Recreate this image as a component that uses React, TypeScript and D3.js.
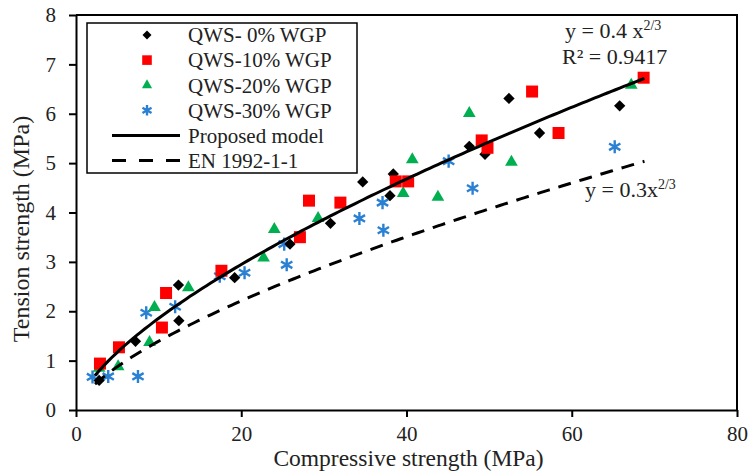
import React, { useRef, useEffect } from 'react';
import * as d3 from 'd3';

// QWS-0% WGP
const qws0X = [2.8, 7.2, 12.4, 12.45, 19.2, 25.9, 30.8, 34.7, 38.4, 38.0, 47.6, 49.5, 52.4, 56.1, 65.8];
const qws0Y = [0.6, 1.39, 2.53, 1.81, 2.68, 3.36, 3.78, 4.62, 4.78, 4.34, 5.34, 5.18, 6.31, 5.61, 6.16];
// QWS-10% WGP
const qws10X = [2.9, 5.2, 10.4, 10.9, 17.6, 27.1, 28.2, 32.0, 38.7, 40.2, 49.1, 49.8, 55.2, 58.4, 68.7];
const qws10Y = [0.94, 1.27, 1.67, 2.37, 2.82, 3.5, 4.24, 4.2, 4.63, 4.63, 5.46, 5.31, 6.45, 5.61, 6.73];
// QWS-20% WGP
const qws20X = [2.8, 5.1, 8.9, 9.5, 13.6, 22.7, 24.0, 29.3, 39.6, 40.7, 43.8, 47.6, 52.7, 67.2];
const qws20Y = [0.85, 0.88, 1.37, 2.08, 2.48, 3.08, 3.66, 3.88, 4.39, 5.07, 4.31, 6.01, 5.02, 6.58];
// QWS-30% WGP
const qws30X = [2.0, 3.9, 7.5, 8.5, 12.0, 17.4, 20.4, 25.2, 25.5, 34.3, 37.1, 37.2, 45.1, 48.0, 65.2];
const qws30Y = [0.67, 0.68, 0.68, 1.97, 2.09, 2.71, 2.78, 3.36, 2.94, 3.88, 4.2, 3.64, 5.04, 4.49, 5.33];

const xTicks = [0, 20, 40, 60, 80];
const yTicks = [0, 1, 2, 3, 4, 5, 6, 7, 8];

// y = a * x^(2/3)
const modelCoef = 0.4;
const codeCoef = 0.3;
const curveStart = 2.3;
const curveEnd = 68.8;

const App = () => {
  const chartRef = useRef<SVGSVGElement>(null);

  useEffect(() => {
    const font = '"Liberation Serif", "Times New Roman", serif';
    const ink = '#222';
    const svg = d3.select(chartRef.current);
    svg.selectAll('*').remove();

    const x = d3.scaleLinear().domain([0, 80]).range([76, 737]);
    const y = d3.scaleLinear().domain([0, 8]).range([410, 15]);

    // frame top + right
    svg
      .append('path')
      .attr('d', `M${x(0)},${y(8)}H${x(80)}V${y(0)}`)
      .attr('fill', 'none')
      .attr('stroke', '#000')
      .attr('stroke-width', 2);

    const xAxis = d3.axisBottom(x).tickValues(xTicks).tickSize(7).tickSizeOuter(0).tickPadding(9);
    const gx = svg
      .append('g')
      .attr('transform', `translate(0,${y(0)})`)
      .call(xAxis);
    const yAxis = d3.axisLeft(y).tickValues(yTicks).tickSize(7).tickSizeOuter(0).tickPadding(13);
    const gy = svg
      .append('g')
      .attr('transform', `translate(${x(0)},0)`)
      .call(yAxis);
    [gx, gy].forEach((g) => {
      g.selectAll('path, line').attr('stroke', '#000').attr('stroke-width', 2);
      g.selectAll('text')
        .attr('font-family', font)
        .attr('font-size', 21)
        .attr('fill', ink);
    });

    svg
      .append('text')
      .attr('x', (x(0) + x(80)) / 2 + 2)
      .attr('y', 466)
      .attr('text-anchor', 'middle')
      .attr('font-family', font)
      .attr('font-size', 23.5)
      .attr('fill', ink)
      .text('Compressive strength (MPa)');

    svg
      .append('text')
      .attr('transform', `translate(29,229) rotate(-90)`)
      .attr('text-anchor', 'middle')
      .attr('font-family', font)
      .attr('font-size', 24)
      .attr('fill', ink)
      .text('Tension strength (MPa)');

    const series = [
      { xs: qws30X, ys: qws30Y, kind: 'star', color: '#2a80d2' },
      { xs: qws20X, ys: qws20Y, kind: 'tri', color: '#00b050' },
      { xs: qws0X, ys: qws0Y, kind: 'dia', color: '#000000' },
      { xs: qws10X, ys: qws10Y, kind: 'sq', color: '#ff0000' },
    ];

    const drawMarker = (g: any, kind: string, color: string, cx: number, cy: number, s: number) => {
      if (kind === 'dia') {
        g.append('path')
          .attr('d', d3.symbol().type(d3.symbolSquare).size(64 * s * s)())
          .attr('transform', `translate(${cx},${cy}) rotate(45)`)
          .attr('fill', color);
      } else if (kind === 'sq') {
        g.append('path')
          .attr('d', d3.symbol().type(d3.symbolSquare).size(144 * s * s)())
          .attr('transform', `translate(${cx},${cy})`)
          .attr('fill', color);
      } else if (kind === 'tri') {
        g.append('path')
          .attr('d', d3.symbol().type(d3.symbolTriangle).size(70 * s * s)())
          .attr('transform', `translate(${cx},${cy})`)
          .attr('fill', color);
      } else {
        g.append('path')
          .attr('d', d3.symbol().type(d3.symbolAsterisk).size(120 * s * s)())
          .attr('transform', `translate(${cx},${cy})`)
          .attr('fill', 'none')
          .attr('stroke', color)
          .attr('stroke-width', 2.4);
      }
    };

    const marks = svg.append('g');
    series.forEach((sr) => {
      sr.xs.forEach((v, i) => drawMarker(marks, sr.kind, sr.color, x(v), y(sr.ys[i]), 1));
    });

    const line = d3.line<number>().x((d) => x(d));
    const xsCurve = d3.range(curveStart, curveEnd + 0.01, 0.5);

    svg
      .append('path')
      .attr('d', line.y((d) => y(modelCoef * Math.pow(d, 2 / 3)))(xsCurve))
      .attr('fill', 'none')
      .attr('stroke', '#000')
      .attr('stroke-width', 3);

    svg
      .append('path')
      .attr('d', line.y((d) => y(codeCoef * Math.pow(d, 2 / 3)))(xsCurve))
      .attr('fill', 'none')
      .attr('stroke', '#000')
      .attr('stroke-width', 3)
      .attr('stroke-dasharray', '13 9');

    // legend
    const lg = svg.append('g');
    lg.append('rect')
      .attr('x', 87)
      .attr('y', 23)
      .attr('width', 270)
      .attr('height', 150)
      .attr('fill', '#fff')
      .attr('stroke', '#000')
      .attr('stroke-width', 1.5);
    const legendItems = [
      { label: 'QWS- 0% WGP', kind: 'dia', color: '#000000' },
      { label: 'QWS-10% WGP', kind: 'sq', color: '#ff0000' },
      { label: 'QWS-20% WGP', kind: 'tri', color: '#00b050' },
      { label: 'QWS-30% WGP', kind: 'star', color: '#2a80d2' },
      { label: 'Proposed model', kind: 'solid', color: '#000' },
      { label: 'EN 1992-1-1', kind: 'dash', color: '#000' },
    ];
    legendItems.forEach((it, i) => {
      const cy = 35 + i * 25.1;
      if (it.kind === 'solid' || it.kind === 'dash') {
        lg.append('line')
          .attr('x1', 112)
          .attr('x2', 180)
          .attr('y1', cy)
          .attr('y2', cy)
          .attr('stroke', '#000')
          .attr('stroke-width', 3)
          .attr('stroke-dasharray', it.kind === 'dash' ? '14 13' : null);
      } else {
        drawMarker(lg, it.kind, it.color, 147, cy, 0.8);
      }
      lg.append('text')
        .attr('x', 188)
        .attr('y', cy)
        .attr('dy', '0.35em')
        .attr('font-family', font)
        .attr('font-size', 21)
        .attr('fill', ink)
        .text(it.label);
    });

    // annotations
    const t1 = svg
      .append('text')
      .attr('x', 565)
      .attr('y', 38)
      .attr('font-family', font)
      .attr('font-size', 22)
      .attr('fill', ink);
    t1.append('tspan').text('y = 0.4 x');
    t1.append('tspan').attr('font-size', 14).attr('dy', -8).text('2/3');

    svg
      .append('text')
      .attr('x', 562)
      .attr('y', 64)
      .attr('font-family', font)
      .attr('font-size', 22)
      .attr('fill', ink)
      .text('R² = 0.9417');

    const t2 = svg
      .append('text')
      .attr('x', 585)
      .attr('y', 197)
      .attr('font-family', font)
      .attr('font-size', 22)
      .attr('fill', ink);
    t2.append('tspan').text('y = 0.3x');
    t2.append('tspan').attr('font-size', 14).attr('dy', -8).text('2/3');
  }, []);

  return (
    <svg
      ref={chartRef}
      width={750}
      height={472}
      style={{ position: 'absolute', left: 0, top: 0, background: '#fff' }}
    />
  );
};

export default App;
